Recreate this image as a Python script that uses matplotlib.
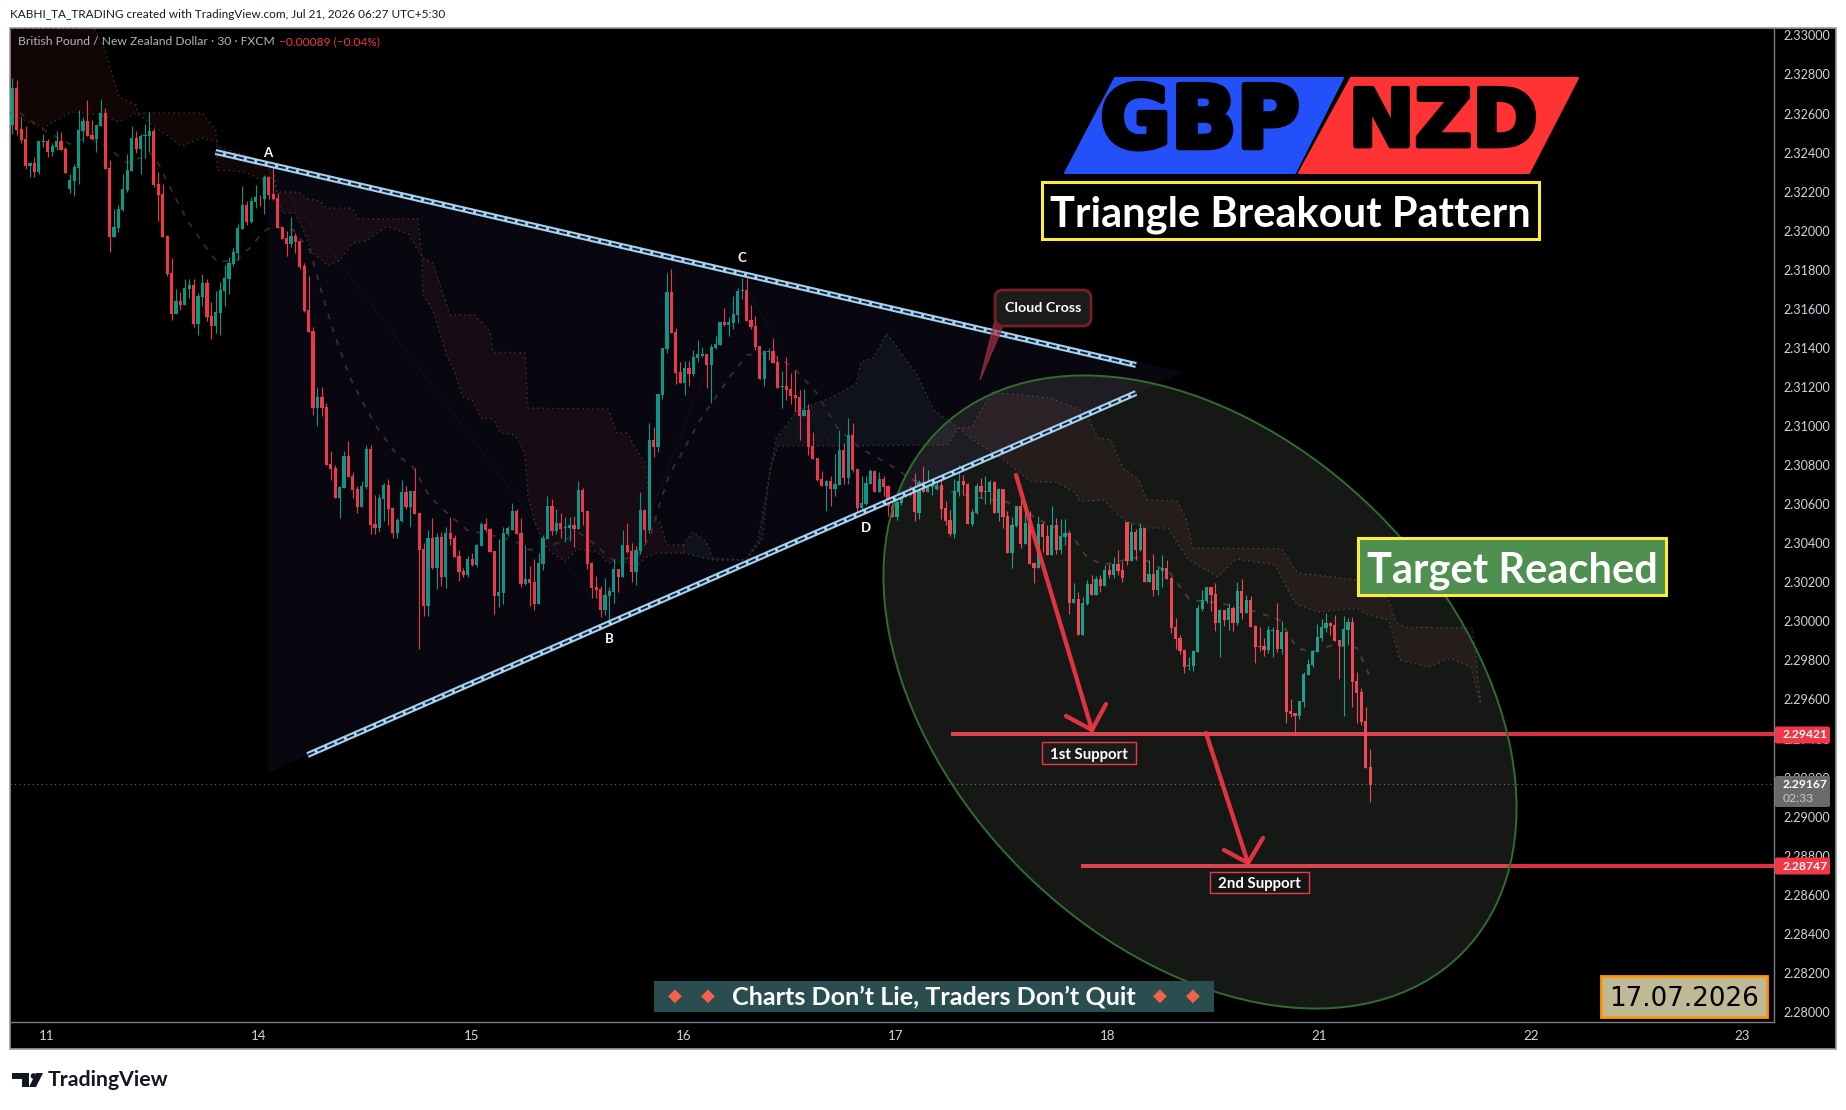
# GBP/NZD 30m chart, TradingView look
import numpy as np
import matplotlib
matplotlib.use("Agg")
import matplotlib.pyplot as plt
from matplotlib.patches import Polygon, Ellipse, Rectangle, FancyBboxPatch, Circle
import matplotlib.patheffects as pe

plt.rcParams['font.family'] = ['Lato', 'DejaVu Sans']

# quotes are in 1e-5 of a NZD (2.32780 -> 232780), one value per 30 min bar
highs = [232780,232772,232584,232536,232354,232376,232459,232494,232468,232451,
232511,232505,232430,232290,232342,232616,232581,232669,232567,232541,
232674,232628,232362,232111,232132,232290,232393,232536,232511,232495,
232546,232608,232526,232301,232239,231978,231860,231701,231686,231753,
231753,231753,231679,231778,231753,231635,231691,231737,231824,231865,
231911,232034,232229,232152,232171,232234,232183,232285,232280,232328,
232191,232019,231998,232070,231988,231952,231835,231768,231507,231199,
231199,231118,230872,230800,230693,230872,230923,230764,230693,230718,
230903,230903,230646,230652,230708,230728,230585,230529,230723,230693,
230667,230785,230554,230401,230467,230529,230452,230457,230483,230534,
230442,230365,230273,230334,230349,230396,230508,230529,230477,230360,
230421,230483,230488,230606,230575,230529,230390,230283,230319,230350,
230442,230641,230626,230575,230554,230534,230534,230539,230718,230682,
230565,230303,230232,230181,230222,230175,230319,230268,230467,230503,
230401,230385,230662,230575,231015,230995,231164,231399,231783,231804,
231502,231328,231333,231333,231389,231440,231404,231369,231420,231461,
231532,231604,231558,231666,231707,231758,231758,231620,231563,231410,
231389,231399,231451,231358,231282,231353,231271,231287,231184,231189,
231113,230969,230836,230769,230723,230744,230857,230979,230913,231041,
231015,230780,230744,230744,230780,230775,230764,230744,230698,230636,
230621,230647,230672,230693,230759,230723,230795,230775,230723,230718,
230728,230616,230570,230728,230800,230749,230708,230575,230708,230734,
230744,230723,230718,230682,230677,230565,230534,230590,230626,230611,
230565,230298,230539,230508,230493,230590,230529,230524,230524,230467,
230196,230150,230124,230211,230237,230232,230237,230288,230293,230329,
230365,230303,230508,230503,230472,230503,230478,230314,230344,230278,
230339,230314,230227,230018,229930,229859,229818,229854,230084,230161,
230176,230176,230197,230064,230059,230094,230079,230202,230217,230135,
230130,229982,229971,229915,229977,229971,230094,230002,229946,229603,
229531,229593,229741,229808,229854,229987,230012,230043,229997,230033,
229905,230028,230018,230023,229741,229659,229562,229347]

body_tops = [232729,232729,232519,232470,232347,232347,232459,232458,232459,232434,
232459,232459,232418,232260,232326,232516,232562,232562,232490,232541,
232603,232603,232321,232019,232111,232214,232311,232475,232475,232485,
232488,232511,232511,232239,232188,231973,231783,231640,231640,231707,
231722,231722,231666,231732,231732,231563,231584,231696,231758,231835,
231891,232014,232132,232132,232152,232173,232174,232275,232275,232188,
232167,232019,231963,231973,231973,231947,231819,231594,231486,231148,
231148,231097,230805,230785,230688,230846,230846,230744,230677,230693,
230882,230882,230498,230631,230698,230698,230580,230518,230662,230662,
230667,230667,230554,230370,230426,230426,230431,230431,230452,230452,
230426,230334,230257,230319,230319,230390,230498,230498,230472,230360,
230150,230452,230478,230565,230565,230452,230216,230216,230201,230298,
230426,230590,230590,230503,230503,230483,230493,230493,230672,230672,
230565,230298,230175,230165,230134,230155,230268,230268,230390,230390,
230360,230365,230570,230570,230928,230928,231164,231399,231686,231686,
231481,231276,231297,231297,231353,231369,231369,231369,231404,231420,
231532,231532,231532,231573,231691,231696,231696,231543,231512,231410,
231384,231384,231384,231328,231205,231205,231189,231159,231148,231082,
231082,230897,230836,230728,230718,230718,230703,230877,230877,230954,
230954,230780,230606,230708,230769,230769,230728,230728,230693,230590,
230611,230636,230662,230672,230672,230713,230713,230708,230703,230698,
230698,230580,230519,230667,230718,230718,230703,230559,230693,230693,
230667,230713,230713,230677,230677,230539,230493,230590,230590,230503,
230503,230298,230498,230498,230437,230493,230493,230437,230452,230452,
230114,230114,230093,230191,230191,230216,230216,230262,230262,230293,
230293,230262,230508,230457,230457,230478,230478,230242,230242,230262,
230273,230273,230222,229971,229915,229854,229777,229849,230069,230110,
230176,230176,230140,230059,230059,230069,230069,230156,230156,230110,
230110,229977,229874,229874,229956,229956,229956,229946,229946,229541,
229531,229593,229731,229782,229849,229920,229971,229992,229992,229982,
229905,229961,229997,229997,229695,229639,229490,229255]

body_bots = [232541,232516,232465,232331,232331,232301,232301,232454,232403,232403,
232427,232413,232296,232214,232255,232321,232511,232485,232470,232470,
232536,232316,231968,231968,232014,232106,232208,232306,232418,232418,
232485,232485,232234,232183,231968,231778,231573,231573,231620,231620,
231701,231522,231522,231660,231558,231512,231512,231579,231691,231753,
231830,231886,232009,232045,232045,232147,232171,232162,232183,232162,
232014,231957,231932,231932,231942,231814,231589,231481,231092,231092,
231092,230800,230780,230631,230631,230682,230739,230672,230585,230585,
230687,230493,230477,230477,230626,230575,230452,230452,230513,230585,
230585,230549,230365,230078,230078,230273,230273,230226,230226,230421,
230329,230252,230237,230237,230288,230288,230385,230467,230355,230129,
230129,230145,230447,230467,230447,230191,230191,230196,230088,230088,
230293,230421,230462,230462,230472,230478,230478,230472,230472,230560,
230293,230170,230160,230058,230058,230129,230150,230227,230227,230355,
230252,230252,230360,230467,230467,230892,230892,231159,231394,231476,
231271,231220,231220,231266,231266,231348,231358,231312,231312,231399,
231415,231517,231517,231527,231568,231691,231538,231507,231404,231241,
231241,231379,231323,231194,231200,231184,231154,231143,231051,231051,
230892,230831,230723,230693,230693,230677,230677,230698,230734,230734,
230775,230580,230580,230600,230703,230662,230662,230687,230590,230534,
230534,230606,230636,230647,230560,230554,230662,230662,230687,230677,
230575,230513,230447,230447,230662,230698,230498,230498,230554,230662,
230662,230662,230554,230554,230534,230350,230350,230488,230396,230396,
230293,230273,230273,230431,230339,230339,230365,230365,230431,230093,
230093,229930,229930,230088,230134,230134,230181,230181,230237,230237,
230257,230221,230309,230309,230365,230365,230201,230201,230160,230160,
230257,230216,229965,229910,229849,229767,229772,229772,229843,230064,
230105,230135,229992,229992,230007,230007,229992,229992,230043,230043,
229971,229869,229869,229854,229854,229951,229859,229859,229536,229526,
229516,229516,229587,229726,229777,229843,229915,229966,229977,229900,
229874,229874,229956,229690,229634,229485,229249,229162]

lows = [232495,232488,232451,232318,232277,232277,232290,232430,232379,232383,
232413,232413,232296,232195,232178,232239,232454,232485,232470,232403,
232536,232316,231891,231968,231993,232101,232198,232306,232396,232290,
232372,232403,232224,232050,231968,231768,231543,231573,231594,231620,
231655,231505,231466,231614,231538,231444,231474,231466,231614,231676,
231819,231850,232009,232029,232039,232116,232126,232085,232162,232157,
232014,231957,231870,231916,231886,231804,231584,231481,231056,231000,
231051,230800,230723,230631,230529,230682,230739,230631,230554,230585,
230677,230447,230447,230457,230513,230493,230426,230426,230508,230575,
230483,230549,229858,230027,230027,230267,230165,230180,230170,230390,
230329,230206,230227,230227,230283,230278,230385,230457,230355,230037,
230073,230088,230437,230467,230447,230175,230186,230078,230058,230088,
230263,230421,230442,230447,230426,230406,230411,230380,230472,230493,
230268,230119,230119,230022,230032,229996,230093,230150,230227,230350,
230201,230186,230344,230406,230452,230841,230867,231138,231374,231476,
231215,231220,231159,231205,231256,231328,231353,231194,231118,231394,
231415,231512,231461,231497,231527,231650,231538,231497,231389,231241,
231205,231338,231323,231194,231092,231133,231113,231072,230928,231051,
230851,230831,230718,230693,230565,230590,230641,230698,230703,230703,
230764,230544,230570,230595,230703,230662,230662,230641,230539,230534,
230519,230595,230636,230641,230513,230524,230662,230662,230647,230672,
230524,230493,230437,230426,230641,230647,230498,230488,230549,230631,
230600,230600,230554,230513,230478,230350,230273,230483,230375,230396,
230293,230196,230273,230355,230339,230339,230344,230344,230390,230037,
230093,229930,229930,230083,230134,230134,230150,230181,230221,230221,
230237,230201,230288,230309,230314,230360,230201,230201,230129,230134,
230175,230216,229940,229859,229833,229736,229751,229746,229843,230053,
230094,230053,229951,229818,229977,229956,229951,229982,230012,230043,
229971,229787,229849,229823,229838,229818,229843,229833,229480,229511,
229418,229500,229562,229726,229767,229843,229900,229946,229931,229900,
229705,229516,229879,229562,229480,229470,229249,229075]

direction = ("GRRRGRGGRG" "GRRGGGGRRG" "GRRGGGGGRG" "GGRRRRRGRG" "GRGGRRGGGG"
             "GGGRGGRGRR" "RRRGRRRRRG" "RRRRGGRRRG" "GRRGGRRGGR" "GRRRGRGRGR"
             "RRRGRGGRRR" "GGGGRRGRRG" "GGRGRGGRGR" "RRRRGGGRGR" "RGGRGRGGGR"
             "RRGRGGGRGG" "GRGGGGRRRR" "GGRRGRRRRG" "RRRRGRGGRG" "RRGGGRGRRR"
             "GGGRRGRGGG" "RRRGGRRGGR" "GGRGRRGGRG" "RRGRRGRGGR" "GRGGRGRGRG"
             "RRRGRGRGRG" "GRRRRRGGGG" "GRRGRGRGRG" "RRRRGGRGRR" "RGGGGGGGRR"
             "RGGRRRRR")

# red cloud, first stretch
cloud1_upper_bars = [-0.5,18.7,21,24.1,28,28.4,42.9,46,46.3,52.6,58.9,59.8,64.8,66.6,69.6,71.1,76.8,78.2,91.7,92.6,95.1,99,104.6,108,108.7,115.9,116.6,134.7,136.7,139,143,144.6,146.4,148,152.1]
cloud1_upper = [233038,233033,232925,232685,232644,232603,232603,232516,232429,232388,232326,232198,232198,232163,232152,232116,232116,232060,232060,231866,231835,231569,231569,231482,231379,231374,231092,231087,230964,230964,230811,230534,230509,230391,230391]
cloud1_lower_bars = [-0.5,2.6,6.9,13.3,19.6,24.1,28,34.8,38.4,42.9,46.3,46.3,52.6,56.2,58.9,61,63.9,65.5,68,71.4,74.1,76.8,80.4,84.7,89.5,92.6,92.8,95.1,98.3,99.6,101.9,103.9,106.2,108.7,110.3,113.6,115.9,116.6,118.2,119.8,121.5,125,127.7,132.2,134.7,138,141.4,143.5,145.7,152.1]
cloud1_lower = [232603,232567,232526,232608,232593,232557,232603,232490,232434,232475,232454,232311,232301,232260,232270,232091,232091,232019,231886,231820,231850,231932,231953,232024,231983,231866,231671,231594,231354,231297,231149,231133,231036,231036,230964,230954,230862,230637,230504,230417,230360,230304,230371,230355,230299,230304,230289,230330,230350,230350]

# green cloud in the middle
cloud2_upper_bars = [151.6,153.9,157,158.4,165.9,168.6,172.7,177.6,185.5,190.9,191.8,194.6,197.7,201.6,204.3,208.4,212.4,213.8]
cloud2_upper = [230391,230458,230406,230324,230314,230417,230939,231082,231149,231220,231328,231348,231476,231354,231272,231082,231016,230990]
cloud2_lower_bars = [151.6,158.4,165.9,169.5,171.3,173.1,211.5,213.8]
cloud2_lower = [230350,230314,230314,230417,230775,230898,230903,230990]

# red cloud, projected part
cloud3_upper_bars = [213.8,217,221.3,234.8,242.7,245.4,248.4,251.1,254.7,256.7,263.3,265.3,266.9,287,290.6,304,311.2,312.8,314.8,330.2,332]
cloud3_upper = [230990,230995,231174,231144,231072,230939,230929,230785,230724,230621,230616,230529,230376,230371,230248,230212,230109,229997,229971,229966,229572]
cloud3_lower_bars = [213.8,218.3,223.3,230.5,235.7,240.2,241.4,246.8,250,252,256.7,261.3,264,266,272.6,276.6,281.4,285.4,290,295.2,304,306.5,311.2,313.7,320.3,325,329.8,332]
cloud3_lower = [230990,230913,230842,230714,230714,230662,230616,230621,230545,230509,230478,230478,230381,230314,230227,230319,230304,230289,230094,230048,230068,230033,230007,229802,229766,229812,229766,229572]

# dashed base line
base_bars = [1.7,7.8,13,17.1,21.4,25.9,31.8,36.3,39.5,43.1,46.3,50.8,53.7,56.7,58.9,63.5,67.3,69.6,72.5,76.3,79.3,82.4,87,90.6,94.4,98.3,102.8,108,113.2,117,122.2,128.3,131.3,135.8,141.2,144.2,146.4,148.7,150.9,155.5,162.2,166.1,171.3,176.5,181.9,186.4,191.6,197.7,203.6,211.3,217.2,224.9,232.3,239.8,242.9,246.6,254.9,261.7,266.2,273,281.4,286.6,290.4,294,298.6,304,307]
base_line = [232603,232506,232444,232480,232429,232347,232398,232193,232055,231937,231840,231850,231912,231994,232024,232004,231901,231712,231492,231251,231118,230995,230852,230790,230637,230555,230468,230442,230417,230365,230391,230452,230401,230314,230330,230432,230606,230760,230842,231031,231251,231364,231374,231302,231169,230995,230888,230811,230724,230673,230637,230611,230519,230432,230330,230289,230330,230248,230109,230094,230048,230007,229864,229843,229879,229864,229715]

price_ticks = [2.28,2.282,2.284,2.286,2.288,2.29,2.292,2.294,2.296,2.298,2.30,2.302,2.304,2.306,2.308,2.31,2.312,2.314,2.316,2.318,2.32,2.322,2.324,2.326,2.328,2.33]
day_labels = ['11','14','15','16','17','18','21','22','23']
day_bars = [7.8,55.8,103.8,151.7,199.7,247.6,295.5,343.4,391.1]
support_levels = [2.29421, 2.28747]
support_start_bars = [212.2, 241.6]
last_price = 2.29167

UP = '#089981'
DOWN = '#f23645'
TXT = '#d1d4dc'

fig = plt.figure(figsize=(18.46, 11.10), dpi=100, facecolor='white')
W, H = 1846.0, 1110.0

def scale(vals):
    return np.array(vals) / 1e5

# black chart background with the price and time strips
bg = fig.add_axes([0, 0, 1, 1], zorder=0)
bg.set_xlim(0, W)
bg.set_ylim(H, 0)
bg.axis('off')
bg.add_patch(Rectangle((10, 27.5), 1825.5, 1021.5, fc='black', ec='#9a9a9a', lw=1.2))

# price pane
ax = fig.add_axes([10 / W, (H - 1022) / H, 1764 / W, 994.5 / H], zorder=1)
ax.patch.set_alpha(0)
ax.set_xlim(-0.52, 398.3)
ax.set_ylim(2.279488, 2.330406)
for name, sp in ax.spines.items():
    sp.set_visible(name in ('right', 'bottom'))
    sp.set_color('#787b86')
    sp.set_linewidth(1)
ax.yaxis.tick_right()
ax.set_yticks(price_ticks)
ax.set_yticklabels(['%.5f' % p for p in price_ticks])
ax.set_xticks(day_bars)
ax.set_xticklabels(day_labels)
ax.tick_params(axis='y', length=0, pad=6.5, labelsize=9.1, labelcolor=TXT)
ax.tick_params(axis='x', length=0, pad=6, labelsize=9.6, labelcolor=TXT)

# clouds
for xu, yu, xl, yl, col in [
    (cloud1_upper_bars, cloud1_upper, cloud1_lower_bars, cloud1_lower, '#c05050'),
    (cloud2_upper_bars, cloud2_upper, cloud2_lower_bars, cloud2_lower, '#60a080'),
    (cloud3_upper_bars, cloud3_upper, cloud3_lower_bars, cloud3_lower, '#c05050'),
]:
    ax.fill(list(xu) + list(xl)[::-1], list(scale(yu)) + list(scale(yl))[::-1],
            color=col, alpha=0.085, lw=0, zorder=1)
    ax.plot(xu, scale(yu), ls=(0, (1, 3)), color='#4a3a3a', lw=0.9, zorder=1.5)
    ax.plot(xl, scale(yl), ls=(0, (1, 3)), color='#4a3a3a', lw=0.9, zorder=1.5)

ax.plot(base_bars, scale(base_line), ls=(0, (3, 4)), color='#33262a', lw=1.4, zorder=1.6)

# candles
bars = np.arange(len(highs))
colors = [UP if d == 'G' else DOWN for d in direction]
ax.vlines(bars, scale(lows), scale(highs), colors=colors, lw=0.8, zorder=3)
tops = scale(body_tops)
bots = scale(body_bots)
ax.bar(bars, np.maximum(tops - bots, 0.00004), bottom=bots, width=0.72, color=colors, lw=0, zorder=4)

# last price line and support levels
ax.axhline(last_price, color='#6a6a6a', lw=0.8, ls=(0, (1, 3)), zorder=2)
for level, start in zip(support_levels, support_start_bars):
    ax.plot([start, 398.3], [level, level], color=DOWN, lw=2.9, alpha=0.92, zorder=6, solid_capstyle='butt')

# drawings on top, in picture pixels
top = fig.add_axes([0, 0, 1, 1], zorder=2)
top.set_xlim(0, W)
top.set_ylim(H, 0)
top.axis('off')
top.patch.set_alpha(0)

# pattern triangle and faint legs
top.add_patch(Polygon([(268, 167), (1185, 372), (268, 773)], closed=True, fc='#7a60e0', ec='none', alpha=0.065, zorder=1))
top.plot([268, 609, 742, 866], [168, 620, 278, 510], color='#4a4a90', lw=0.8, alpha=0.12, zorder=1)

# big ellipse
top.add_patch(Ellipse((1200, 692), 740, 504, angle=45, fc='#c8d8c8', ec='none', alpha=0.115, zorder=2))
top.add_patch(Ellipse((1200, 692), 740, 504, angle=45, fc='none', ec='#2f6e2f', lw=1.4, zorder=2.1))

# trend lines
for x1, y1, x2, y2 in [(215.5, 152, 1136, 365), (307.6, 755, 1136, 393)]:
    top.plot([x1, x2], [y1, y2], color='#a9d3e8', lw=4.3, solid_capstyle='butt', zorder=3)
    top.plot([x1, x2], [y1, y2], color='#13204a', lw=1.4, ls=(0, (4, 1.5)), zorder=3.1)

for txt, x, y in [('A', 268, 153), ('B', 609, 639), ('C', 742, 258), ('D', 866, 528)]:
    top.text(x, y, txt, color='white', fontsize=9.5, fontweight='bold', ha='center', va='center', zorder=5)

# arrows to the supports
for line, head in [
    ([(1016, 475), (1092, 730)], [(1066, 716), (1092, 730), (1106, 704)]),
    ([(1206, 733), (1248, 863)], [(1224, 850), (1248, 863), (1263, 838)]),
]:
    top.plot(*zip(*line), color=DOWN, lw=3.1, alpha=0.92, solid_capstyle='round', zorder=6)
    top.plot(*zip(*head), color=DOWN, lw=3.1, alpha=0.92, solid_capstyle='round', zorder=6)

# callout
top.add_patch(Polygon([(995, 320), (980, 380), (1003, 326)], closed=True, fc='#a03040', ec='#a03040', lw=1, alpha=0.7, zorder=6))
top.add_patch(FancyBboxPatch((999, 294), 88, 28, boxstyle='round,pad=4,rounding_size=8', fc='#1c1c1c', ec='#7a1f2a', lw=2, zorder=7))
top.text(1043, 308, 'Cloud Cross', color='white', fontsize=10.3, fontweight='bold', ha='center', va='center', zorder=8)

def label_box(x0, y0, x1, y1, txt, fc, ec, lw, color, size, weight='bold', **kw):
    top.add_patch(Rectangle((x0, y0), x1 - x0, y1 - y0, fc=fc, ec=ec, lw=lw, zorder=8))
    return top.text((x0 + x1) / 2, (y0 + y1) / 2, txt, color=color, fontsize=size, fontweight=weight,
                    ha='center', va='center_baseline', zorder=9, **kw)

label_box(1042, 742, 1136, 764, '1st Support', '#1a1c1a', DOWN, 1, 'white', 10.8)
label_box(1210, 872, 1309, 893, '2nd Support', '#141614', DOWN, 1, 'white', 10.8)
label_box(1042, 182, 1539, 239, 'Triangle Breakout Pattern', 'black', '#ffeb3b', 2.2, 'white', 30)
label_box(1358, 538, 1666, 595, 'Target Reached', '#4f8f50', '#ffeb3b', 2.2, 'white', 30)
label_box(1601, 976, 1767, 1017, '17.07.2026', '#bfb995', '#ff9800', 2, 'black', 18.8, 'normal', family='DejaVu Sans')

# currency logo
top.add_patch(Polygon([(1065, 173), (1115, 78), (1343, 78), (1295, 173)], closed=True, fc='#2350f8', ec='#2350f8', lw=1.5, joinstyle='round', zorder=6))
top.add_patch(Polygon([(1299, 173), (1351, 78), (1578, 78), (1529, 173)], closed=True, fc='#ff3333', ec='#ff3333', lw=1.5, joinstyle='round', zorder=6))
top.text(1200, 124, 'GBP', color='black', family='DejaVu Sans', fontsize=62, fontweight='bold', ha='center', va='center',
         path_effects=[pe.withStroke(linewidth=4, foreground='black')], zorder=7)
top.text(1443, 124, 'NZD', color='black', family='DejaVu Sans', fontsize=57, fontweight='bold', ha='center', va='center',
         path_effects=[pe.withStroke(linewidth=3.5, foreground='black')], zorder=7)

# slogan strip
top.add_patch(Rectangle((654, 981), 560, 31, fc='#2a4d50', ec='none', zorder=8))
top.text(934, 996.5, 'Charts Don\u2019t Lie, Traders Don\u2019t Quit', color='white', fontsize=18.1, fontweight='bold', ha='center', va='center', zorder=9)
for x in [675, 708, 1160, 1193]:
    top.text(x, 996, '\u25c6', color='#f4604a', family='DejaVu Sans', fontsize=13, ha='center', va='center', zorder=9)

# price tags on the scale
for level, txt in [(735, '2.29421'), (866, '2.28747')]:
    top.add_patch(FancyBboxPatch((1775, level - 8.5), 55, 17, boxstyle='round,pad=0,rounding_size=2', fc=DOWN, ec='none', zorder=8))
    top.text(1783, level, txt, color='white', fontsize=8.7, fontweight='bold', va='center', zorder=9)
top.add_patch(FancyBboxPatch((1775, 776), 55, 31, boxstyle='round,pad=0,rounding_size=2', fc='#6a6a6a', ec='none', zorder=8))
top.text(1783, 784.5, '2.29167', color='white', fontsize=8.7, fontweight='bold', va='center', zorder=9)
top.text(1783, 798.5, '02:33', color='#c8c8c8', fontsize=8.7, va='center', zorder=9)

# header and legend line
top.text(10, 15, 'KABHI_TA_TRADING created with TradingView.com, Jul 21, 2026 06:27 UTC+5:30', color='#131722', fontsize=8.45, va='center')
top.text(18, 41.5, 'British Pound / New Zealand Dollar \u00b7 30 \u00b7 FXCM', color='#b2b5be', fontsize=8.7, va='center', zorder=9)
top.text(279, 41.5, '\u22120.00089 (\u22120.04%)', color=DOWN, fontsize=8.6, va='center', zorder=9)

# TradingView mark
top.add_patch(Polygon([(12, 1073), (29, 1073), (29, 1087), (22, 1087), (22, 1079), (12, 1079)], closed=True, fc='#131722', ec='none'))
top.add_patch(Circle((33.5, 1076), 2.8, fc='#131722', ec='none'))
top.add_patch(Polygon([(36, 1073), (43, 1073), (36, 1087), (29, 1087)], closed=True, fc='#131722', ec='none'))
top.text(48, 1080, 'TradingView', color='#131722', fontsize=15.3, fontweight='bold', va='center')

fig.savefig('out.png', dpi=100, facecolor='white')
